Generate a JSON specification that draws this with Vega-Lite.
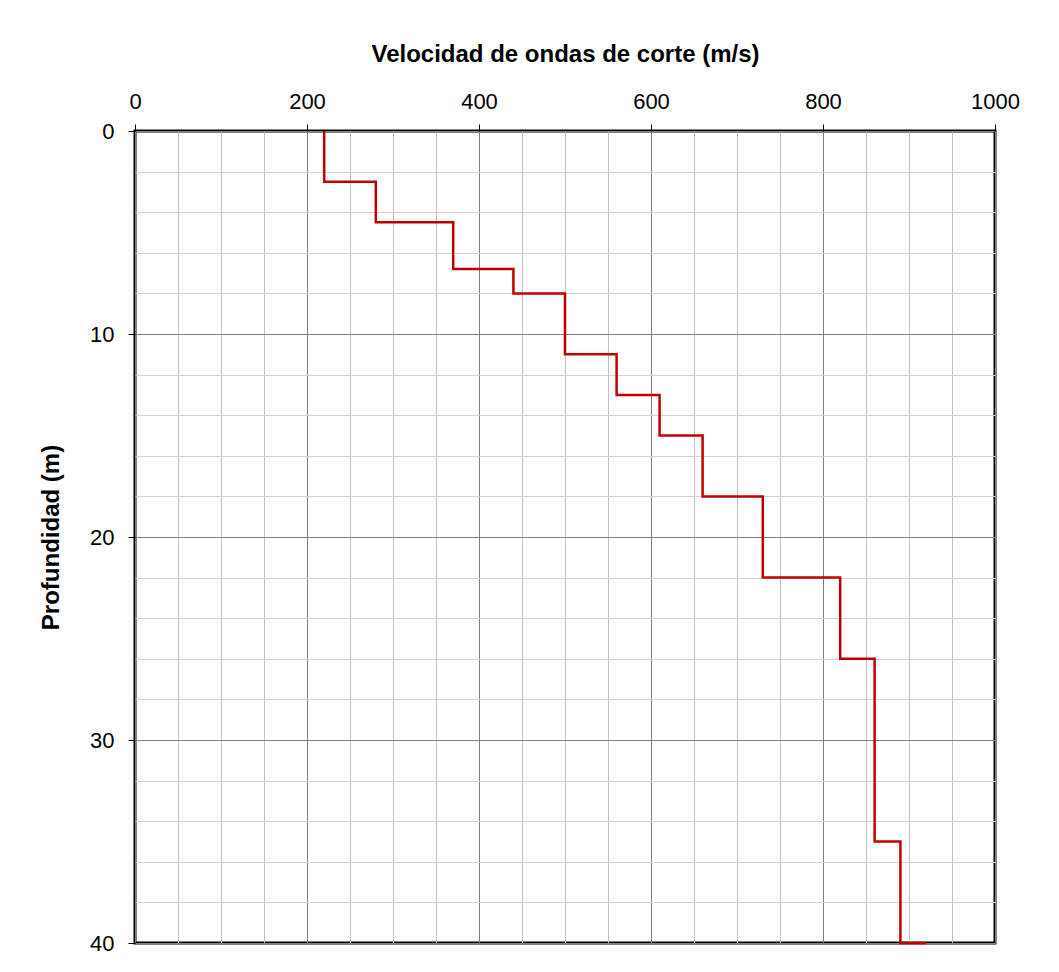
{
  "$schema": "https://vega.github.io/schema/vega-lite/v6.json",
  "width": 860,
  "height": 812,
  "autosize": {"type": "none"},
  "padding": {"left": 135, "top": 131, "right": 64, "bottom": 29},
  "background": "white",
  "config": {
    "font": "Liberation Sans",
    "view": {"stroke": "black", "strokeWidth": 3}
  },
  "data": {
    "values": [
      {"i": 0, "vs": 220, "depth": 0},
      {"i": 1, "vs": 220, "depth": 2.5},
      {"i": 2, "vs": 280, "depth": 2.5},
      {"i": 3, "vs": 280, "depth": 4.5},
      {"i": 4, "vs": 370, "depth": 4.5},
      {"i": 5, "vs": 370, "depth": 6.8},
      {"i": 6, "vs": 440, "depth": 6.8},
      {"i": 7, "vs": 440, "depth": 8},
      {"i": 8, "vs": 500, "depth": 8},
      {"i": 9, "vs": 500, "depth": 11},
      {"i": 10, "vs": 560, "depth": 11},
      {"i": 11, "vs": 560, "depth": 13},
      {"i": 12, "vs": 610, "depth": 13},
      {"i": 13, "vs": 610, "depth": 15},
      {"i": 14, "vs": 660, "depth": 15},
      {"i": 15, "vs": 660, "depth": 18},
      {"i": 16, "vs": 730, "depth": 18},
      {"i": 17, "vs": 730, "depth": 22},
      {"i": 18, "vs": 820, "depth": 22},
      {"i": 19, "vs": 820, "depth": 26},
      {"i": 20, "vs": 860, "depth": 26},
      {"i": 21, "vs": 860, "depth": 35},
      {"i": 22, "vs": 890, "depth": 35},
      {"i": 23, "vs": 890, "depth": 40},
      {"i": 24, "vs": 920, "depth": 40}
    ]
  },
  "mark": {"type": "line", "color": "#c00000", "strokeWidth": 2.5, "clip": false},
  "encoding": {
    "x": {
      "field": "vs",
      "type": "quantitative",
      "scale": {"domain": [0, 1000], "nice": false, "zero": false},
      "axis": {
        "orient": "top",
        "title": "Velocidad de ondas de corte (m/s)",
        "titleFontSize": 24,
        "titleFontWeight": "bold",
        "titleColor": "black",
        "titlePadding": 24,
        "values": [0, 50, 100, 150, 200, 250, 300, 350, 400, 450, 500, 550, 600, 650, 700, 750, 800, 850, 900, 950, 1000],
        "labelExpr": "datum.value % 200 === 0 ? datum.label : ''",
        "labelFontSize": 22,
        "labelColor": "black",
        "labelPadding": 11,
        "labelFlush": false,
        "labelOverlap": false,
        "format": "d",
        "domain": false,
        "tickSize": 7,
        "tickColor": "black",
        "tickOpacity": {"condition": {"test": "datum.value % 200 === 0", "value": 1}, "value": 0},
        "grid": true,
        "gridColor": {"condition": {"test": "datum.value % 200 === 0", "value": "#808080"}, "value": "#c0c0c0"},
        "gridWidth": 1
      }
    },
    "y": {
      "field": "depth",
      "type": "quantitative",
      "scale": {"domain": [0, 40], "reverse": true, "nice": false, "zero": false},
      "axis": {
        "title": "Profundidad (m)",
        "titleFontSize": 24,
        "titleFontWeight": "bold",
        "titleColor": "black",
        "titlePadding": 26,
        "values": [0, 2, 4, 6, 8, 10, 12, 14, 16, 18, 20, 22, 24, 26, 28, 30, 32, 34, 36, 38, 40],
        "labelExpr": "datum.value % 10 === 0 ? datum.label : ''",
        "labelFontSize": 22,
        "labelColor": "black",
        "labelPadding": 14,
        "labelFlush": false,
        "labelOverlap": false,
        "domain": false,
        "tickSize": 7,
        "tickColor": "black",
        "tickOpacity": {"condition": {"test": "datum.value % 10 === 0", "value": 1}, "value": 0},
        "grid": true,
        "gridColor": {"condition": {"test": "datum.value % 10 === 0", "value": "#808080"}, "value": "#d4d4d4"},
        "gridWidth": 1
      }
    },
    "order": {"field": "i", "type": "quantitative"}
  }
}
